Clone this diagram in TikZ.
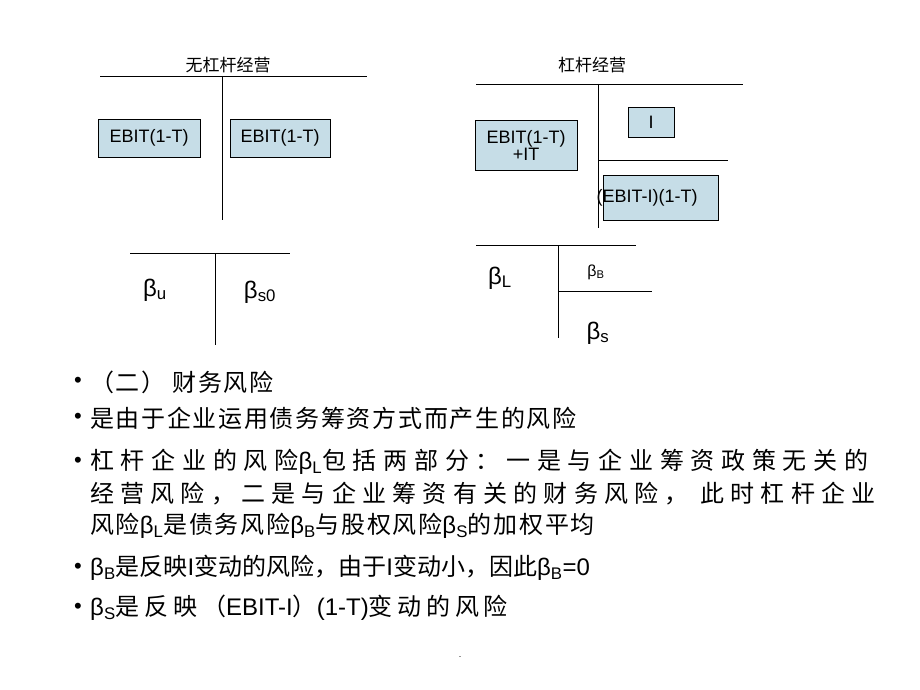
\documentclass[tikz,border=0pt]{standalone}
\usepackage{fontspec}
\setmainfont{Liberation Sans}
\newfontfamily\cjk{Noto Sans CJK SC}
\newfontfamily\cjka[LetterSpace=7]{Noto Sans CJK SC}
\newfontfamily\cjkb[LetterSpace=28]{Noto Sans CJK SC}
\newfontfamily\cjkc[LetterSpace=26]{Noto Sans CJK SC}
\newfontfamily\cjkd[LetterSpace=20]{Noto Sans CJK SC}
\newcommand{\zh}[1]{{\cjka #1}}
\newcommand{\zj}[1]{{\cjkb #1}}
\newcommand{\zk}[1]{{\cjkc #1}}
\newcommand{\zm}[1]{{\cjkd #1}}
\newcommand{\zp}[1]{{\cjk #1}}
\begin{document}
\begin{tikzpicture}[x=1pt,y=-1pt,
  ln/.style={line width=0.8pt},
  bx/.style={draw=black,fill=cyan!20!teal!25,line width=0.6pt,minimum height=38pt,inner sep=1pt,font=\fontsize{18}{20}\selectfont},
  tt/.style={font=\fontsize{17}{19}\selectfont\cjk},
  bt/.style={anchor=west,font=\fontsize{24}{28}\selectfont,inner sep=0pt},
  bl/.style={font=\fontsize{22}{22}\selectfont,inner sep=0pt},
  gk/.style={font=\fontsize{24}{24}\selectfont,inner sep=0pt}]
\useasboundingbox[fill=white] (0,0) rectangle (920,690);
% left top
\node[tt] (t1) at (228,65) {无杠杆经营};
\coordinate (a1) at (100,76); \coordinate (a2) at (367,76);
\coordinate (a3) at (222,76); \coordinate (a4) at (222,220);
\draw[ln] (a1)--(a2); \draw[ln] (a3)--(a4);
\node[bx,minimum width=102pt] (b1) at (149,138) {EBIT(1-T)};
\node[bx,minimum width=100pt] (b2) at (280,138) {EBIT(1-T)};
% left bottom
\coordinate (c1) at (130,253); \coordinate (c2) at (290,253);
\coordinate (c3) at (215,253); \coordinate (c4) at (215,345);
\draw[ln] (c1)--(c2); \draw[ln] (c3)--(c4);
\node[gk] (bu) at (155,290) {β\textsubscript{u}};
\node[gk] (bs0) at (260,292) {β\textsubscript{s0}};
% right top
\node[tt] (t2) at (592,65) {杠杆经营};
\coordinate (d1) at (476,84); \coordinate (d2) at (743,84);
\coordinate (d3) at (598,84); \coordinate (d4) at (598,228);
\coordinate (d5) at (598,160); \coordinate (d6) at (728,160);
\draw[ln] (d1)--(d2); \draw[ln] (d3)--(d4); \draw[ln] (d5)--(d6);
\node[bx,minimum width=102pt,minimum height=50pt,align=center,font=\fontsize{18}{17}\selectfont] (b3) at (526,145) {EBIT(1-T)\\+IT};
\node[bx,minimum width=46pt,minimum height=30pt] (b4) at (651,122) {I};
\node[bx,minimum width=113pt,minimum height=45pt,text width=113pt,align=center] (b5) at (661,198) {\hspace*{-28pt}(EBIT-I)(1-T)};
% right bottom
\coordinate (e1) at (476,245); \coordinate (e2) at (636,245);
\coordinate (e3) at (558,245); \coordinate (e4) at (558,338);
\coordinate (e5) at (558,291); \coordinate (e6) at (652,291);
\draw[ln] (e1)--(e2); \draw[ln] (e3)--(e4); \draw[ln] (e5)--(e6);
\node[gk] (bL) at (500,278) {β\textsubscript{L}};
\node[font=\fontsize{16}{16}\selectfont,inner sep=0pt] (bB) at (596,272) {β\textsubscript{B}};
\node[gk] (bS) at (598,333) {β\textsubscript{s}};
% bullets
\foreach \y/\n in {382/p1,418/p2,462/p3,568/p4,608/p5}{\node[bl] (\n) at (78,\y) {•};}
\node[bt] (l1) at (90,382) {\zh{（二） 财务风险}};
\node[bt] (l2) at (90,418) {\zh{是由于企业运用债务筹资方式而产生的风险}};
\node[bt] (l3) at (90,462) {\zj{杠杆企业的风险}β\textsubscript{L}\zj{包括两部分：一是与企业筹资政策无关的}};
\node[bt] (l4) at (90,494) {\zk{经营风险，二是与企业筹资有关的财务风险， 此时杠杆企业}};
\node[bt] (l5) at (90,526) {\zh{风险}β\textsubscript{L}\zh{是债务风险}β\textsubscript{B}\zh{与股权风险}β\textsubscript{S}\zh{的加权平均}};
\node[bt] (l6) at (90,568) {β\textsubscript{B}\zp{是反映}I\zp{变动的风险，由于}I\zp{变动小，因此}β\textsubscript{B}=0};
\node[bt] (l7) at (90,608) {β\textsubscript{S}\zm{是反映（}EBIT-I\zm{）}(1-T)\zm{变动的风险}};
\node[font=\small] (dot) at (460,657) {.};
\end{tikzpicture}
\end{document}
